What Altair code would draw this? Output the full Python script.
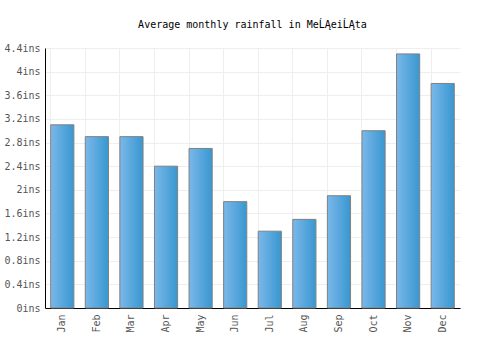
import altair as alt
import pandas as pd

months = ["Jan", "Feb", "Mar", "Apr", "May", "Jun", "Jul", "Aug", "Sep", "Oct", "Nov", "Dec"]
rainfall = [3.1, 2.9, 2.9, 2.4, 2.7, 1.8, 1.3, 1.5, 1.9, 3.0, 4.3, 3.8]
y_ticks = [0, 0.4, 0.8, 1.2, 1.6, 2.0, 2.4, 2.8, 3.2, 3.6, 4.0, 4.4]

df = pd.DataFrame({"month": months, "rain": rainfall})

font = "DejaVu Sans Mono"

chart = alt.Chart(df).mark_bar(
    color=alt.Gradient(
        gradient="linear",
        stops=[alt.GradientStop(color="#7ab8ea", offset=0),
               alt.GradientStop(color="#3897d0", offset=1)],
        x1=0, x2=1, y1=0, y2=0,
    ),
    stroke="#808080",
    strokeWidth=1,
).encode(
    x=alt.X("month:N", sort=months,
            scale=alt.Scale(paddingInner=0.33, paddingOuter=0.165),
            axis=alt.Axis(title=None, labelAngle=270, labelAlign="right", labelBaseline="middle",
                          labelPadding=6, ticks=False, grid=True, gridColor="#eeeeee",
                          bandPosition=0, domainColor="#000000", labelFont=font,
                          labelFontSize=10, labelColor="#555555")),
    y=alt.Y("rain:Q", scale=alt.Scale(domain=[0, 4.4], nice=False),
            axis=alt.Axis(title=None, values=y_ticks, labelExpr="datum.value + 'ins'",
                          ticks=False, gridColor="#eeeeee", domainColor="#000000",
                          labelFont=font, labelFontSize=10, labelColor="#555555",
                          labelPadding=5)),
).properties(
    width=415,
    height=260,
    autosize=alt.AutoSizeParams(type="none"),
    padding={"left": 45, "top": 48, "right": 40, "bottom": 42},
    title=alt.Title("Average monthly rainfall in MeĹĄeiĹĄta", font=font, fontSize=10,
                    fontWeight="normal", color="#000000", offset=13, anchor="middle"),
).configure_view(stroke=None).configure_axis(domainWidth=1)

chart.save("out.html", embed_options={"renderer": "svg", "actions": False})
